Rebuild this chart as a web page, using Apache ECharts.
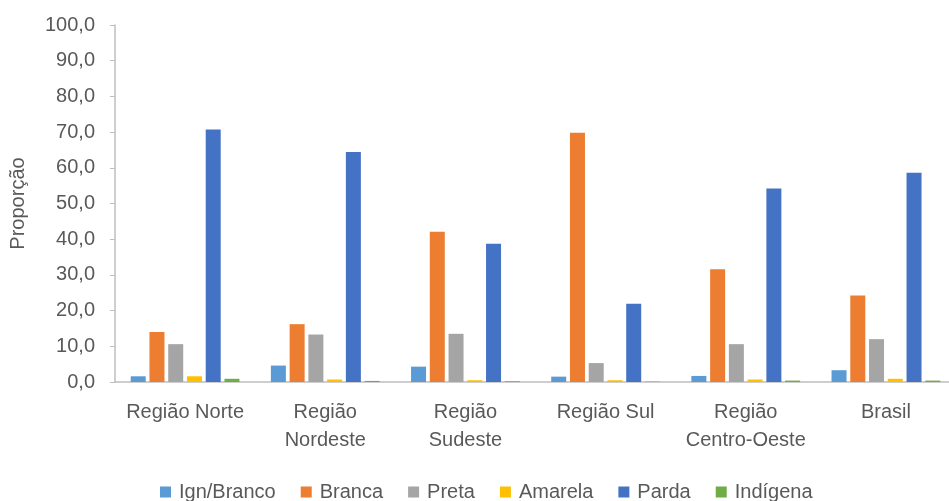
<!DOCTYPE html>
<html>
<head>
<meta charset="utf-8">
<script src="https://cdn.jsdelivr.net/npm/echarts@6/dist/echarts.min.js"></script>
<style>
  html, body { margin: 0; padding: 0; background: #fff; }
  #chart { width: 949px; height: 501px; }
</style>
</head>
<body>
<div id="chart"></div>
<script>
// categorias (regiões)
const categories = ['Região Norte', 'Região\nNordeste', 'Região\nSudeste', 'Região Sul', 'Região\nCentro-Oeste', 'Brasil']

// proporção por raça/cor
const ignBranco = [1.6, 4.6, 4.3, 1.5, 1.7, 3.3]
const branca = [14.0, 16.2, 42.1, 69.8, 31.6, 24.2]
const preta = [10.6, 13.3, 13.5, 5.3, 10.6, 12.0]
const amarela = [1.6, 0.7, 0.5, 0.5, 0.7, 0.9]
const parda = [70.7, 64.4, 38.7, 21.9, 54.2, 58.6]
const indigena = [0.9, 0.3, 0.2, 0.1, 0.4, 0.4]

const seriesNames = ['Ign/Branco', 'Branca', 'Preta', 'Amarela', 'Parda', 'Indígena']
const seriesData = [ignBranco, branca, preta, amarela, parda, indigena]
const colors = ['#5b9bd5', '#ed7d31', '#a5a5a5', '#ffc000', '#4472c4', '#70ad47']

const font = 'Liberation Sans'
const textColor = '#595959'
const axisColor = '#bfbfbf'

const chart = echarts.init(document.getElementById('chart'))

chart.setOption({
  animation: false,
  textStyle: { fontFamily: font },
  grid: {
    left: 115,
    top: 25,
    height: 357,
    width: 841,
    containLabel: false,
    outerBoundsMode: 'none'
  },
  legend: {
    data: seriesNames,
    left: 155,
    top: 475,
    icon: 'rect',
    itemWidth: 11,
    itemHeight: 11,
    itemGap: 25,
    textStyle: {
      color: textColor,
      fontSize: 20,
      fontFamily: font,
      lineHeight: 24,
      padding: [0, 0, 0, 3]
    }
  },
  xAxis: {
    type: 'category',
    data: categories,
    axisLine: { lineStyle: { color: axisColor, width: 1.5 } },
    axisTick: { length: 7, lineStyle: { color: axisColor, width: 1.5 } },
    axisLabel: {
      color: textColor,
      fontSize: 20,
      fontFamily: font,
      lineHeight: 28,
      margin: 16,
      interval: 0
    }
  },
  yAxis: {
    type: 'value',
    min: 0,
    max: 100,
    interval: 10,
    name: 'Proporção',
    nameLocation: 'middle',
    nameRotate: 90,
    nameGap: 87,
    nameTextStyle: { color: textColor, fontSize: 20, fontFamily: font },
    axisLine: { show: true, lineStyle: { color: axisColor, width: 1.5 } },
    axisTick: { show: true, length: 5, lineStyle: { color: axisColor } },
    splitLine: { show: false },
    axisLabel: {
      color: textColor,
      fontSize: 20,
      fontFamily: font,
      margin: 20,
      formatter: (v) => v.toFixed(1).replace('.', ',')
    }
  },
  series: seriesNames.map((name, i) => ({
    name: name,
    type: 'bar',
    data: seriesData[i],
    barWidth: 15,
    barGap: '25%',
    itemStyle: { color: colors[i] }
  }))
})
</script>
</body>
</html>
